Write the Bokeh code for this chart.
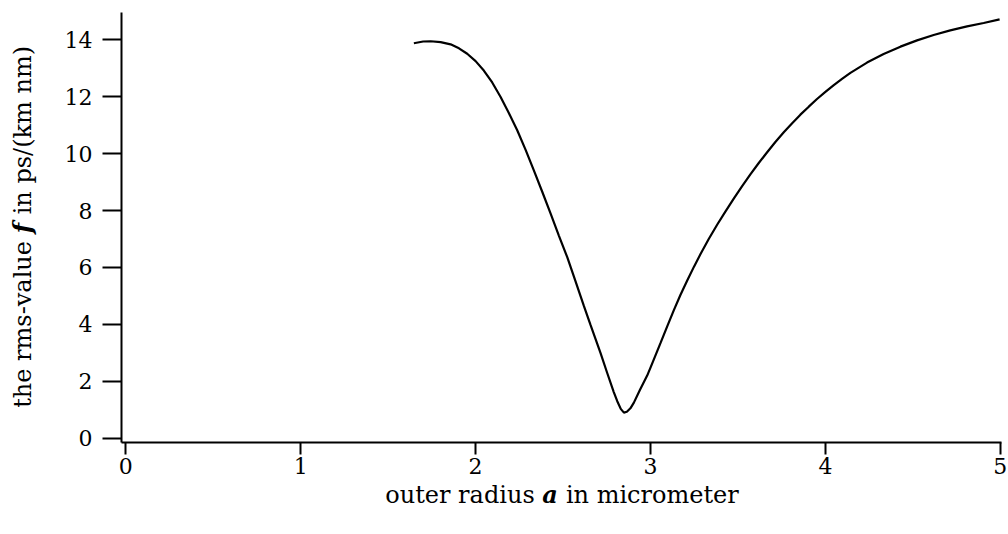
from bokeh.plotting import figure
from bokeh.models import Range1d, FixedTicker, Label
from bokeh.embed import file_html
from bokeh.resources import INLINE

# outer radius a (micrometer) and rms-value f (ps/(km nm))
radius = [1.647, 1.70, 1.743, 1.80, 1.857, 1.905, 1.952, 2.0, 2.047, 2.095,
          2.143, 2.19, 2.238, 2.286, 2.333, 2.381, 2.429, 2.476, 2.524, 2.571,
          2.619, 2.657, 2.714, 2.752, 2.79, 2.81, 2.83, 2.848, 2.865, 2.885,
          2.905, 2.94, 2.981, 3.0, 3.057, 3.095, 3.133, 3.171, 3.21, 3.248,
          3.286, 3.333, 3.381, 3.429, 3.476, 3.524, 3.571, 3.619, 3.667, 3.714,
          3.762, 3.81, 3.857, 3.905, 3.952, 4.0, 4.048, 4.095, 4.143, 4.238,
          4.333, 4.429, 4.524, 4.619, 4.714, 4.81, 4.905, 4.996]
rms = [13.88, 13.94, 13.95, 13.92, 13.84, 13.70, 13.51, 13.25, 12.92, 12.50,
       11.99, 11.43, 10.82, 10.13, 9.41, 8.66, 7.89, 7.12, 6.36, 5.52,
       4.65, 3.98, 3.0, 2.3, 1.62, 1.3, 1.03, 0.9, 0.93, 1.05,
       1.25, 1.7, 2.2, 2.48, 3.34, 3.92, 4.49, 5.03, 5.54, 6.02,
       6.47, 7.0, 7.5, 7.97, 8.42, 8.86, 9.27, 9.67, 10.05, 10.41,
       10.75, 11.07, 11.37, 11.65, 11.92, 12.17, 12.41, 12.63, 12.84, 13.2,
       13.5, 13.76, 13.98, 14.17, 14.33, 14.47, 14.59, 14.72]

x_ticks = [0, 1, 2, 3, 4, 5]
y_ticks = [0, 2, 4, 6, 8, 10, 12, 14]

x_title = ["outer radius", "a", "in micrometer"]
y_title = ["the rms-value", "f", "in ps/(km nm)"]

FONT = "DejaVu Serif"

# the frame covers the whole canvas; the axes sit at fixed data locations
p = figure(width=1008, height=534, output_backend="svg", toolbar_location=None,
           x_range=Range1d(-0.71641, 5.04689), y_range=Range1d(-3.38405, 15.38110),
           min_border=0, min_border_left=0, min_border_right=0,
           min_border_top=0, min_border_bottom=0)
p.outline_line_color = None
p.grid.visible = False
p.background_fill_color = "white"
p.border_fill_color = "white"

X_AX_AT = -0.1511   # y value where the x axis is drawn
Y_AX_AT = -0.0246   # x value where the y axis is drawn

xa = p.xaxis[0]
ya = p.yaxis[0]
xa.fixed_location = X_AX_AT
ya.fixed_location = Y_AX_AT
xa.bounds = (Y_AX_AT, 5.0069)
ya.bounds = (X_AX_AT, 14.970)

for ax, ticks in ((xa, x_ticks), (ya, y_ticks)):
    ax.ticker = FixedTicker(ticks=ticks)
    ax.minor_tick_line_color = None
    ax.major_tick_in = 0
    ax.major_tick_line_width = 2
    ax.major_tick_line_color = "black"
    ax.axis_line_width = 2
    ax.axis_line_color = "black"
    ax.major_label_text_font = FONT
    ax.major_label_text_font_size = "22px"
    ax.major_label_text_color = "black"

xa.major_tick_out = 12
ya.major_tick_out = 19
xa.major_label_standoff = 4
ya.major_label_standoff = 10

p.line(radius, rms, line_color="black", line_width=2.2)

# axis titles in three pieces (middle one bold italic)
kw = dict(text_font=FONT, text_color="black", text_baseline="alphabetic")
XT_Y = -1.98
p.add_layout(Label(x=2.3379, y=XT_Y, text=x_title[0], text_align="right",
                   text_font_size="24px", **kw))
p.add_layout(Label(x=2.3814, y=XT_Y, text=x_title[1], text_align="left",
                   text_font_size="24px", text_font_style="bold italic", **kw))
p.add_layout(Label(x=2.5163, y=XT_Y, text=x_title[2], text_align="left",
                   text_font_size="24px", **kw))

YT_X = -0.5906
rot = dict(angle=90, angle_units="deg", text_font_size="24px")
p.add_layout(Label(x=YT_X, y=6.9289, text=y_title[0], text_align="right", **rot, **kw))
p.add_layout(Label(x=YT_X, y=7.2030, text=y_title[1], text_align="left",
                   text_font_style="bold italic", **rot, **kw))
p.add_layout(Label(x=YT_X, y=7.8663, text=y_title[2], text_align="left", **rot, **kw))

open("out.html", "w").write(file_html(p, INLINE))
